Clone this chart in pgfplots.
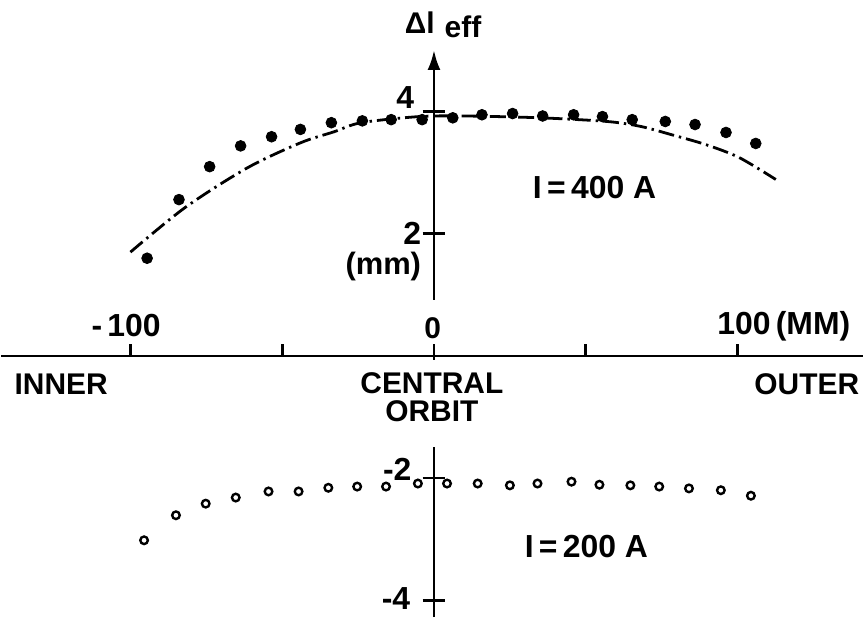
\documentclass[border=0pt]{standalone}
\usepackage{fontspec}
\setmainfont{Liberation Sans}
\usepackage{pgfplots}
\pgfplotsset{compat=1.18}
\usetikzlibrary{arrows.meta}
\tikzset{lab/.style={font=\bfseries\fontsize{15}{18}\selectfont, inner sep=0pt},
         big/.style={font=\bfseries\fontsize{16}{18}\selectfont, inner sep=0pt}}
\begin{document}
\begin{tikzpicture}
\begin{axis}[
  scale only axis, width=432pt, height=284.5pt,
  xmin=-142.5, xmax=141.2, ymin=-4.28, ymax=5.01,
  axis lines=middle, clip=false,
  axis line style={line width=1.4pt},
  x axis line style={-},
  y axis line style={-{Latex[length=10pt,width=6.5pt]}},
  xtick=\empty,
  extra x ticks={-100,-50,50,100},
  extra x tick labels={,,,},
  extra x tick style={major tick length=6pt, tick style={yshift=3pt}},
  ytick={-4,-2,2,4},
  yticklabels={,,,},
  major tick length=11.5pt,
  tick style={line width=1.4pt, black},
]
% 400 A, filled dots
\addplot[only marks, mark=*, mark size=2.7pt, black] coordinates {
(-94.5,1.60) (-84.0,2.56) (-73.9,3.10) (-63.7,3.44) (-53.5,3.59) (-44.0,3.71)
(-33.8,3.82) (-23.6,3.85) (-14.1,3.87) (-3.9,3.87) (6.2,3.90) (15.8,3.95)
(25.9,3.97) (35.8,3.93) (46.0,3.95) (55.5,3.92) (65.3,3.87) (76.2,3.84)
(86.0,3.79) (96.2,3.66) (106.0,3.48)};
% calculated curve
\addplot[smooth, line width=1.4pt, black, dash pattern=on 8pt off 2.5pt on 1.2pt off 2.5pt] coordinates {
(-100,1.70) (-82,2.43) (-61.5,3.08) (-44,3.49) (-33,3.67) (-24,3.82) (-5,3.92)
(10,3.93) (35,3.90) (57,3.84) (68,3.76) (78.5,3.62) (89.6,3.46) (100.5,3.25) (112.6,2.89)};
% 200 A, open circles
\addplot[only marks, mark=o, mark size=1.9pt, mark options={line width=1.2pt}, black] coordinates {
(-95.5,-3.02) (-85.0,-2.61) (-75.2,-2.42) (-65.3,-2.32) (-54.5,-2.22) (-44.6,-2.22)
(-34.8,-2.16) (-25.3,-2.14) (-15.8,-2.14) (-5.3,-2.09) (4.3,-2.09) (14.4,-2.09)
(25.0,-2.12) (34.1,-2.09) (45.3,-2.06) (54.5,-2.11) (64.7,-2.12) (74.2,-2.14)
(84.0,-2.17) (94.5,-2.20) (104.4,-2.29)};
% breaks in the vertical axis
\node[fill=white, inner sep=0pt, minimum width=10pt, minimum height=22pt] at (axis cs:0,0.56) {};
\node[fill=white, inner sep=0pt, minimum width=10pt, minimum height=44pt] at (axis cs:0,-0.78) {};
% labels
\node[lab] at (axis cs:-0.4,0.46) {0};
\node[big] at (axis cs:-98.8,0.49) {\llap{-\,}100};
\node[big] at (axis cs:102.1,0.49) {100\rlap{\,(MM)}};
\node[big] at (axis cs:-9.5,4.24) {4};
\node[big] at (axis cs:-7.2,2.00) {2};
\node[big] at (axis cs:-12.1,-1.86) {-2};
\node[big] at (axis cs:-12.5,-3.97) {-4};
\node[font=\bfseries\fontsize{15.5}{17}\selectfont, inner sep=0pt] at (axis cs:-16.7,1.47) {(mm)};
\node[lab] at (axis cs:-122.8,-0.46) {INNER};
\node[lab] at (axis cs:-0.7,-0.44) {CENTRAL};
\node[lab] at (axis cs:-0.7,-0.91) {ORBIT};
\node[lab] at (axis cs:122.8,-0.46) {OUTER};
\node[big] at (axis cs:52.9,2.76) {I\,=\,400 A};
\node[big] at (axis cs:50.2,-3.12) {I\,=\,200 A};
\node[lab] at (axis cs:3.0,5.42) {Δl\hspace{5pt}\raisebox{-2pt}{eff}};
\path (axis cs:0,5.83);
\end{axis}
\end{tikzpicture}
\end{document}
